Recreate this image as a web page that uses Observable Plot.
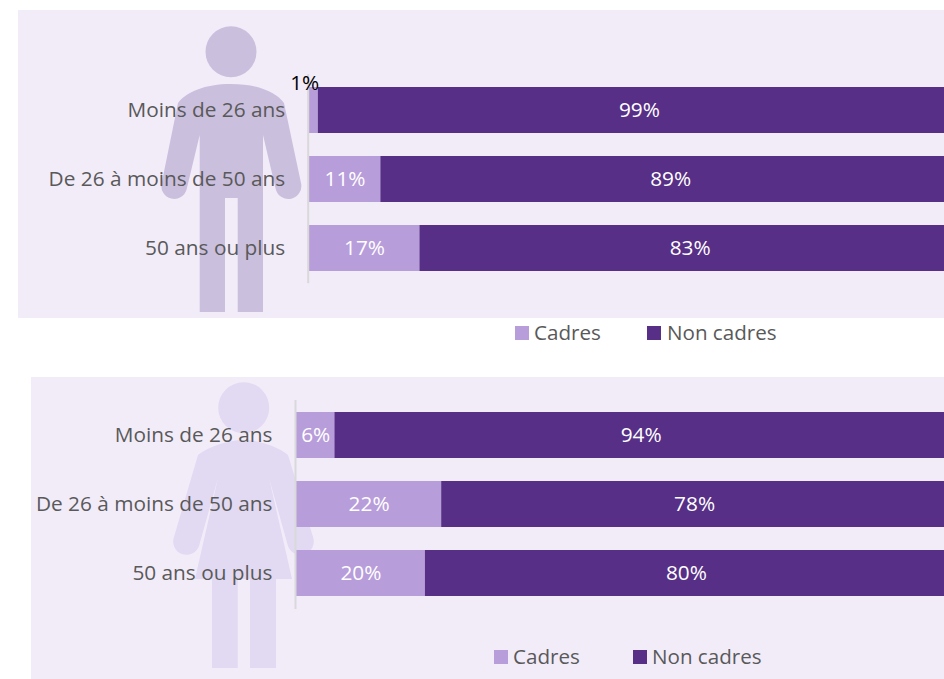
<!DOCTYPE html>
<html lang="fr">
<head>
<meta charset="utf-8">
<script src="https://cdn.jsdelivr.net/npm/d3@7"></script>
<script src="https://cdn.jsdelivr.net/npm/@observablehq/plot@0.6"></script>
<style>
html,body{margin:0;padding:0;background:#fff;width:944px;height:679px;overflow:hidden}
body{position:relative;font-family:"Open Sans",sans-serif}
.panel{position:absolute;background:#f2ecf9}
.abs{position:absolute;left:0;top:0}
.sw{position:absolute;width:14px;height:14px}
.lg{position:absolute;color:#595959;font-size:20.6px;line-height:24px;white-space:nowrap}
</style>
</head>
<body>
<div class="panel" style="left:18px;top:10px;width:926px;height:308px"></div>
<div class="panel" style="left:31px;top:377px;width:913px;height:302px"></div>
<svg class="abs" width="944" height="679" aria-hidden="true">
  <g fill="#cbbfde">
    <circle cx="231" cy="51.7" r="25.5"/>
    <path d="M231 84C205 84 186 92 178 103L161.7 183A12.7 12.7 0 0 0 186.7 189L199.7 135V312H225V198H237.7V312H263V135L275.7 189A12.7 12.7 0 0 0 301 183L284 103C276 92 257 84 231 84Z"/>
  </g>
  <g fill="#e2d9f2">
    <circle cx="243.7" cy="407.7" r="25.5"/>
    <path d="M243.7 440C228 440 208 447 198 455L174 537A13 13 0 0 0 199 546L218 478L195 579H212V668H237.7V579H250V668H276V579H292L269 478L288 546A13 13 0 0 0 313 537L288 455C279 447 259 440 243.7 440Z"/>
  </g>
</svg>
<div id="top" class="abs"></div>
<div id="bottom" class="abs"></div>

<div class="sw" style="left:515px;top:326px;background:#b89ddb"></div>
<div class="lg" style="left:534px;top:320px">Cadres</div>
<div class="sw" style="left:647px;top:326px;background:#572f87"></div>
<div class="lg" style="left:667px;top:320px">Non cadres</div>
<div class="sw" style="left:494px;top:650px;background:#b89ddb"></div>
<div class="lg" style="left:513px;top:644px">Cadres</div>
<div class="sw" style="left:633px;top:650px;background:#572f87"></div>
<div class="lg" style="left:652px;top:644px">Non cadres</div>

<script>
const ages = ["Moins de 26 ans", "De 26 à moins de 50 ans", "50 ans ou plus"];
const seriesNames = ["Cadres", "Non cadres"];
const colors = ["#b89ddb", "#572f87"];

const hommesCadres = [1.4, 11, 17];
const hommesNonCadres = [98.6, 89, 83];
const femmesCadres = [5.9, 22.3, 19.8];
const femmesNonCadres = [94.1, 77.7, 80.2];

function rows(cadres, nonCadres) {
  return ages.flatMap((age, i) => [
    {age, series: seriesNames[0], value: cadres[i]},
    {age, series: seriesNames[1], value: nonCadres[i]}
  ]);
}

function chart(data, {x0, x100, top, bottom, height}) {
  const pct = d => `${Math.round(d.value)}%`;
  const isSmall = d => d.value < 2;
  const stacked = o => Plot.stackX({x: "value", y: "age", order: null, z: "series", text: pct, ...o});
  return Plot.plot({
    width: 944,
    height,
    marginTop: top,
    marginBottom: height - bottom,
    marginLeft: x0,
    marginRight: 0,
    style: {background: "transparent", fontFamily: "'Open Sans', sans-serif", overflow: "hidden"},
    x: {domain: [0, 100], range: [x0, x100], axis: null},
    y: {domain: ages, paddingInner: 0.33, paddingOuter: 0.165, label: null},
    color: {domain: seriesNames, range: colors},
    marks: [
      Plot.axisY({tickSize: 0, tickPadding: 24, fontSize: 20.8, color: "#595959", label: null, x: 0}),
      Plot.barX(data, Plot.stackX({x: "value", y: "age", fill: "series", order: null})),
      Plot.ruleX([0], {stroke: "#d9d9d9", strokeWidth: 2, dx: -1}),
      Plot.text(data, Plot.filter(d => !isSmall(d), stacked({fill: "#fff", fontSize: 20.8}))),
      Plot.text(data, Plot.filter(isSmall, stacked({fill: "#000", fontSize: 20.8, dx: -9, dy: -27})))
    ]
  });
}

document.getElementById("top").append(
  chart(rows(hommesCadres, hommesNonCadres), {x0: 308.7, x100: 960, top: 74.2, bottom: 283.2, height: 318})
);
const b = chart(rows(femmesCadres, femmesNonCadres), {x0: 296, x100: 947, top: 400, bottom: 609, height: 679});
document.getElementById("bottom").append(b);
</script>
</body>
</html>
